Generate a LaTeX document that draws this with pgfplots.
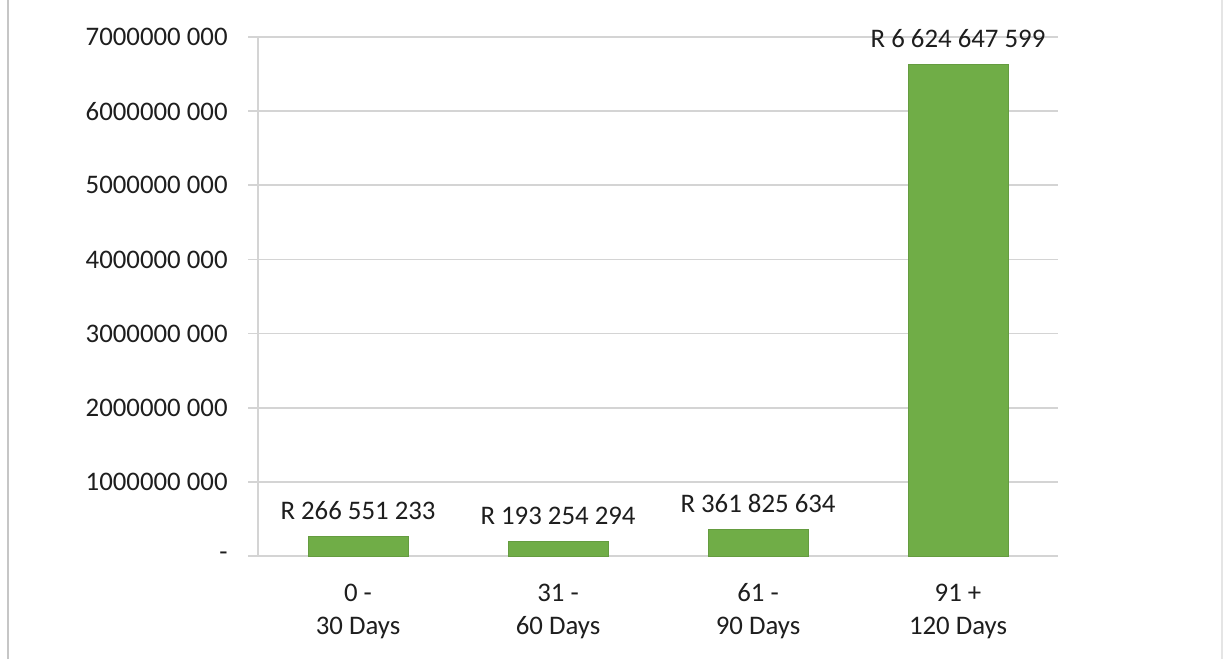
\documentclass[border=0pt]{standalone}
\usepackage{pgfplots}
\pgfplotsset{compat=1.18}
\usepackage{fontspec}
\setmainfont{Carlito}
\definecolor{bargreen}{RGB}{112,173,71}
\definecolor{gridgray}{RGB}{212,212,212}
\definecolor{txt}{RGB}{30,30,30}
\begin{document}
\begin{tikzpicture}[x=0.5pt,y=0.5pt]
  % page area and faint page edges
  \useasboundingbox (0,0) rectangle (1229,659);
  \fill[white] (0,0) rectangle (1229,659);
  \draw[gray!45, line width=1pt] (8,0) -- (8,659);
  \draw[gray!20, line width=0.8pt] (1222,0) -- (1222,659);
  \begin{axis}[
    at={(129pt,51.5pt)}, anchor=south west,
    scale only axis, width=400pt, height=259.5pt,
    xmin=-0.5, xmax=3.5, ymin=0, ymax=7e9,
    axis x line*=bottom, axis y line*=left,
    axis line style={gridgray, line width=0.8pt},
    tick align=outside,
    xtick=data,
    xticklabels={{\strut 0 -\\\strut 30 Days},{\strut 31 -\\\strut 60 Days},{\strut 61 -\\\strut 90 Days},{\strut 91 +\\\strut 120 Days}},
    major x tick style={draw=none},
    extra x ticks={-0.5,0.5,1.5,2.5,3.5},
    extra x tick labels={},
    extra x tick style={major tick length=4pt, tick style={gridgray, line width=0.8pt}},
    ytick={0,1e9,2e9,3e9,4e9,5e9,6e9,7e9},
    yticklabels={{-\hspace{7.5pt}},1000000 000,2000000 000,3000000 000,4000000 000,5000000 000,6000000 000,7000000 000},
    major y tick style={gridgray, line width=0.8pt},
    major tick length=5pt,
    ymajorgrids, grid style={gridgray, line width=0.8pt},
    yticklabel style={font=\fontsize{13.4}{16}\selectfont, text=txt, anchor=east, inner sep=0pt, xshift=-10pt},
    xticklabel style={font=\fontsize{13.4}{16.5}\selectfont, text=txt, align=center, anchor=north, inner sep=0pt, yshift=-6pt},
    scaled y ticks=false,
    ybar, bar width=0.5,
    nodes near coords,
    point meta=explicit symbolic,
    every node near coord/.append style={font=\fontsize{13.4}{16}\selectfont, text=txt, anchor=base, yshift=8.5pt},
    clip=false,
  ]
    \addplot[fill=bargreen, draw=bargreen!90!black, line width=0.4pt] table[meta=label, col sep=comma] {
x,y,label
0,266551233,R 266 551 233
1,193254294,R 193 254 294
2,361825634,R 361 825 634
3,6624647599,R 6 624 647 599
};
  \end{axis}
\end{tikzpicture}
\end{document}
